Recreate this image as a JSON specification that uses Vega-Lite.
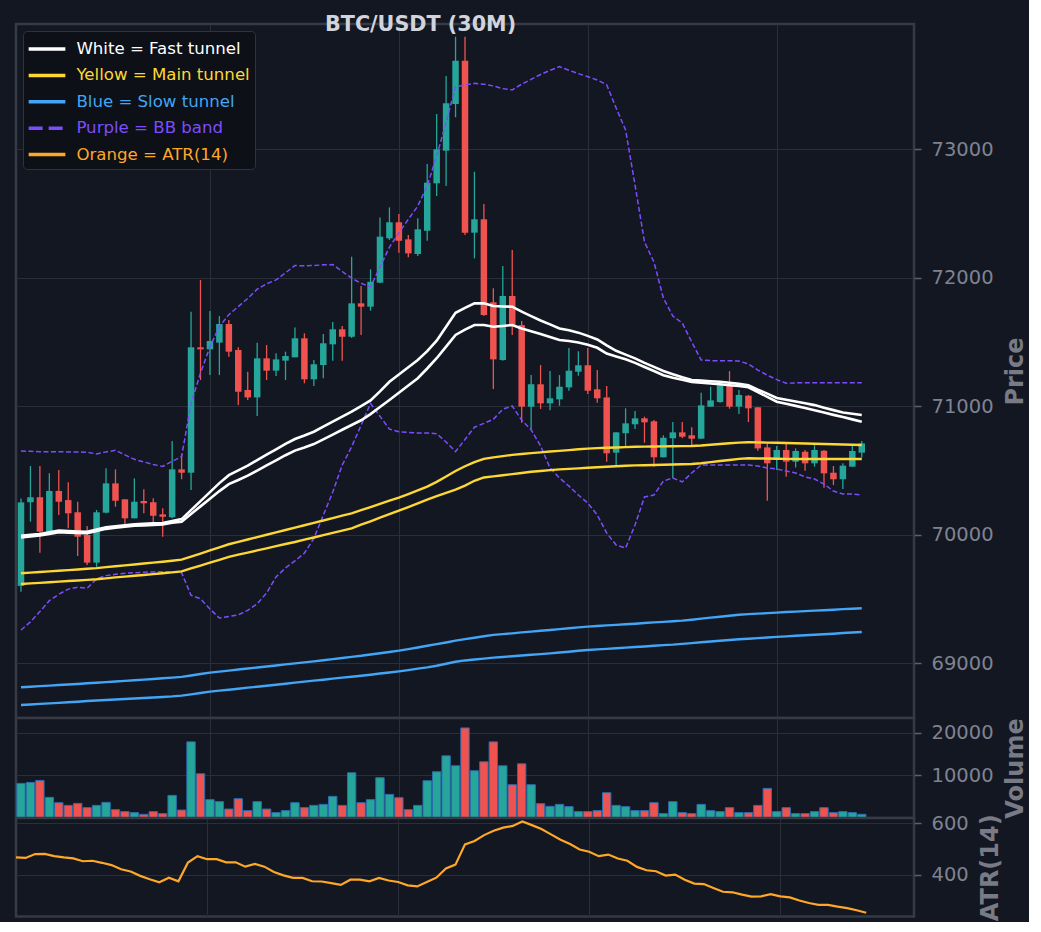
{
  "$schema": "https://vega.github.io/schema/vega-lite/v6.json",
  "background": "#131722",
  "padding": {"left": 14, "top": 14, "right": 0, "bottom": 0},
  "autosize": "pad",
  "bounds": "flush",
  "spacing": 0,
  "title": {
    "text": "BTC/USDT (30M)",
    "anchor": "start",
    "frame": "group",
    "dx": 309,
    "offset": -29,
    "baseline": "alphabetic",
    "font": "DejaVu Sans",
    "fontSize": 20.7,
    "fontWeight": "bold",
    "color": "#d1d4dc"
  },
  "config": {
    "view": {"stroke": "#363a45", "strokeWidth": 2.5, "fill": "#131722"},
    "axis": {
      "gridColor": "#2a2e39",
      "gridWidth": 1,
      "domain": false,
      "tickColor": "#5d606b",
      "tickSize": 7,
      "tickWidth": 1.5,
      "labelColor": "#7f8391",
      "labelFont": "DejaVu Sans",
      "labelFontSize": 19.5,
      "labelPadding": 10,
      "titleColor": "#787b86",
      "titleFont": "DejaVu Sans",
      "titleFontSize": 24,
      "titleFontWeight": "bold",
      "titlePadding": 10
    }
  },
  "datasets": {
    "candles": [
      {"i":0,"o":69600,"h":70280,"l":69555,"c":70250,"v":8126,"f1":69990,"f2":69978,"m1":69698,"m2":69615,"s1":68811,"s2":68673,"bu":70650,"bl":69257,"atr":467},
      {"i":1,"o":70251,"h":70533,"l":70100,"c":70290,"v":8361,"f1":69997,"f2":69985,"m1":69703,"m2":69620,"s1":68815,"s2":68677,"bu":70647,"bl":69320,"atr":465},
      {"i":2,"o":70290,"h":70533,"l":69858,"c":70022,"v":8829,"f1":70004,"f2":69992,"m1":69708,"m2":69624,"s1":68820,"s2":68682,"bu":70645,"bl":69400,"atr":480},
      {"i":3,"o":70022,"h":70476,"l":70010,"c":70339,"v":4848,"f1":70017,"f2":70005,"m1":69713,"m2":69629,"s1":68824,"s2":68686,"bu":70644,"bl":69485,"atr":481},
      {"i":4,"o":70339,"h":70502,"l":70152,"c":70255,"v":3600,"f1":70030,"f2":70018,"m1":69718,"m2":69633,"s1":68829,"s2":68690,"bu":70644,"bl":69535,"atr":472},
      {"i":5,"o":70268,"h":70406,"l":70048,"c":70165,"v":2974,"f1":70027,"f2":70015,"m1":69723,"m2":69638,"s1":68833,"s2":68695,"bu":70643,"bl":69575,"atr":467},
      {"i":6,"o":70173,"h":70255,"l":69833,"c":69983,"v":3443,"f1":70024,"f2":70012,"m1":69728,"m2":69642,"s1":68837,"s2":68699,"bu":70642,"bl":69590,"atr":463},
      {"i":7,"o":69996,"h":70066,"l":69763,"c":69781,"v":2435,"f1":70022,"f2":70010,"m1":69733,"m2":69647,"s1":68842,"s2":68704,"bu":70640,"bl":69582,"atr":452},
      {"i":8,"o":69781,"h":70191,"l":69749,"c":70173,"v":2974,"f1":70039,"f2":70027,"m1":69738,"m2":69652,"s1":68846,"s2":68708,"bu":70627,"bl":69655,"atr":454},
      {"i":9,"o":70170,"h":70515,"l":70165,"c":70398,"v":3677,"f1":70056,"f2":70044,"m1":69746,"m2":69659,"s1":68851,"s2":68712,"bu":70643,"bl":69680,"atr":446},
      {"i":10,"o":70398,"h":70507,"l":70216,"c":70263,"v":1967,"f1":70064,"f2":70052,"m1":69753,"m2":69666,"s1":68856,"s2":68716,"bu":70655,"bl":69690,"atr":437},
      {"i":11,"o":70274,"h":70274,"l":70066,"c":70126,"v":1499,"f1":70072,"f2":70060,"m1":69760,"m2":69672,"s1":68861,"s2":68720,"bu":70620,"bl":69698,"atr":421},
      {"i":12,"o":70126,"h":70437,"l":70126,"c":70255,"v":1265,"f1":70080,"f2":70068,"m1":69767,"m2":69679,"s1":68866,"s2":68724,"bu":70585,"bl":69703,"atr":412},
      {"i":13,"o":70261,"h":70352,"l":70165,"c":70243,"v":875,"f1":70083,"f2":70071,"m1":69774,"m2":69685,"s1":68871,"s2":68728,"bu":70565,"bl":69706,"atr":395},
      {"i":14,"o":70251,"h":70282,"l":70074,"c":70146,"v":1499,"f1":70087,"f2":70075,"m1":69781,"m2":69692,"s1":68876,"s2":68732,"bu":70545,"bl":69709,"atr":382},
      {"i":15,"o":70157,"h":70204,"l":69983,"c":70138,"v":1030,"f1":70090,"f2":70078,"m1":69788,"m2":69698,"s1":68881,"s2":68736,"bu":70530,"bl":69711,"atr":370},
      {"i":16,"o":70134,"h":70728,"l":70126,"c":70507,"v":5316,"f1":70105,"f2":70091,"m1":69796,"m2":69705,"s1":68886,"s2":68740,"bu":70570,"bl":69708,"atr":388},
      {"i":17,"o":70507,"h":70627,"l":70430,"c":70481,"v":1874,"f1":70120,"f2":70100,"m1":69804,"m2":69713,"s1":68892,"s2":68746,"bu":70606,"bl":69703,"atr":374},
      {"i":18,"o":70481,"h":71734,"l":70346,"c":71457,"v":17892,"f1":70190,"f2":70159,"m1":69828,"m2":69736,"s1":68903,"s2":68756,"bu":71020,"bl":69527,"atr":447},
      {"i":19,"o":71457,"h":71981,"l":71202,"c":71441,"v":10398,"f1":70260,"f2":70219,"m1":69852,"m2":69758,"s1":68914,"s2":68767,"bu":71256,"bl":69500,"atr":472},
      {"i":20,"o":71441,"h":71739,"l":71241,"c":71506,"v":4309,"f1":70330,"f2":70278,"m1":69876,"m2":69781,"s1":68925,"s2":68777,"bu":71461,"bl":69420,"atr":460},
      {"i":21,"o":71493,"h":71700,"l":71241,"c":71638,"v":3841,"f1":70400,"f2":70338,"m1":69900,"m2":69803,"s1":68933,"s2":68785,"bu":71618,"bl":69350,"atr":460},
      {"i":22,"o":71638,"h":71669,"l":71384,"c":71423,"v":2108,"f1":70462,"f2":70392,"m1":69924,"m2":69826,"s1":68941,"s2":68792,"bu":71711,"bl":69362,"atr":448},
      {"i":23,"o":71436,"h":71457,"l":71008,"c":71111,"v":4543,"f1":70499,"f2":70424,"m1":69943,"m2":69843,"s1":68949,"s2":68800,"bu":71774,"bl":69375,"atr":448},
      {"i":24,"o":71125,"h":71267,"l":71047,"c":71067,"v":1733,"f1":70536,"f2":70458,"m1":69961,"m2":69859,"s1":68957,"s2":68808,"bu":71837,"bl":69410,"atr":431},
      {"i":25,"o":71067,"h":71493,"l":70922,"c":71371,"v":3841,"f1":70579,"f2":70498,"m1":69980,"m2":69876,"s1":68965,"s2":68815,"bu":71909,"bl":69460,"atr":442},
      {"i":26,"o":71371,"h":71475,"l":71202,"c":71275,"v":2108,"f1":70621,"f2":70538,"m1":69998,"m2":69892,"s1":68973,"s2":68823,"bu":71951,"bl":69545,"atr":431},
      {"i":27,"o":71275,"h":71410,"l":71233,"c":71363,"v":1265,"f1":70663,"f2":70577,"m1":70017,"m2":69909,"s1":68981,"s2":68831,"bu":71981,"bl":69670,"atr":410},
      {"i":28,"o":71353,"h":71423,"l":71202,"c":71389,"v":1733,"f1":70705,"f2":70617,"m1":70035,"m2":69926,"s1":68989,"s2":68839,"bu":72037,"bl":69740,"atr":397},
      {"i":29,"o":71379,"h":71612,"l":71379,"c":71527,"v":3600,"f1":70743,"f2":70653,"m1":70054,"m2":69942,"s1":68997,"s2":68847,"bu":72093,"bl":69795,"atr":387},
      {"i":30,"o":71527,"h":71566,"l":71177,"c":71208,"v":2435,"f1":70770,"f2":70677,"m1":70072,"m2":69960,"s1":69005,"s2":68855,"bu":72092,"bl":69855,"atr":387},
      {"i":31,"o":71208,"h":71358,"l":71156,"c":71325,"v":2974,"f1":70800,"f2":70704,"m1":70091,"m2":69977,"s1":69013,"s2":68863,"bu":72093,"bl":69970,"atr":374},
      {"i":32,"o":71319,"h":71560,"l":71216,"c":71488,"v":3208,"f1":70839,"f2":70741,"m1":70109,"m2":69995,"s1":69021,"s2":68870,"bu":72099,"bl":70150,"atr":373},
      {"i":33,"o":71480,"h":71654,"l":71353,"c":71597,"v":5082,"f1":70878,"f2":70778,"m1":70128,"m2":70013,"s1":69030,"s2":68878,"bu":72101,"bl":70330,"atr":367},
      {"i":34,"o":71597,"h":71623,"l":71353,"c":71539,"v":2974,"f1":70917,"f2":70815,"m1":70147,"m2":70030,"s1":69039,"s2":68886,"bu":72047,"bl":70540,"atr":360},
      {"i":35,"o":71539,"h":72162,"l":71530,"c":71799,"v":10632,"f1":70956,"f2":70852,"m1":70165,"m2":70048,"s1":69048,"s2":68893,"bu":71995,"bl":70683,"atr":380},
      {"i":36,"o":71799,"h":71934,"l":71553,"c":71773,"v":3600,"f1":70999,"f2":70889,"m1":70189,"m2":70076,"s1":69056,"s2":68901,"bu":71955,"bl":70850,"atr":380},
      {"i":37,"o":71773,"h":72064,"l":71742,"c":71967,"v":4309,"f1":71043,"f2":70937,"m1":70214,"m2":70103,"s1":69066,"s2":68909,"bu":71927,"bl":71020,"atr":374},
      {"i":38,"o":71960,"h":72468,"l":71955,"c":72318,"v":9461,"f1":71114,"f2":70992,"m1":70238,"m2":70131,"s1":69076,"s2":68918,"bu":72081,"bl":70920,"atr":387},
      {"i":39,"o":72305,"h":72546,"l":72292,"c":72430,"v":5550,"f1":71189,"f2":71047,"m1":70263,"m2":70158,"s1":69086,"s2":68926,"bu":72237,"bl":70820,"atr":377},
      {"i":40,"o":72430,"h":72494,"l":72193,"c":72286,"v":4777,"f1":71245,"f2":71103,"m1":70287,"m2":70186,"s1":69096,"s2":68935,"bu":72347,"bl":70800,"atr":371},
      {"i":41,"o":72297,"h":72331,"l":72157,"c":72188,"v":1967,"f1":71302,"f2":71160,"m1":70315,"m2":70214,"s1":69108,"s2":68945,"bu":72453,"bl":70795,"atr":358},
      {"i":42,"o":72183,"h":72461,"l":72167,"c":72375,"v":2974,"f1":71358,"f2":71216,"m1":70344,"m2":70243,"s1":69121,"s2":68956,"bu":72556,"bl":70790,"atr":354},
      {"i":43,"o":72364,"h":72883,"l":72286,"c":72738,"v":8759,"f1":71427,"f2":71292,"m1":70373,"m2":70272,"s1":69134,"s2":68966,"bu":72712,"bl":70790,"atr":371},
      {"i":44,"o":72733,"h":73272,"l":72634,"c":72998,"v":10866,"f1":71508,"f2":71372,"m1":70410,"m2":70299,"s1":69147,"s2":68979,"bu":72945,"bl":70785,"atr":388},
      {"i":45,"o":72987,"h":73568,"l":72712,"c":73356,"v":14614,"f1":71617,"f2":71462,"m1":70452,"m2":70324,"s1":69160,"s2":68994,"bu":73208,"bl":70720,"atr":424},
      {"i":46,"o":73350,"h":73874,"l":73247,"c":73687,"v":12272,"f1":71726,"f2":71553,"m1":70494,"m2":70349,"s1":69174,"s2":69010,"bu":73485,"bl":70645,"atr":439},
      {"i":47,"o":73687,"h":73874,"l":72331,"c":72349,"v":21171,"f1":71764,"f2":71594,"m1":70531,"m2":70381,"s1":69186,"s2":69020,"bu":73498,"bl":70740,"atr":518},
      {"i":48,"o":72349,"h":72823,"l":72149,"c":72453,"v":11101,"f1":71799,"f2":71630,"m1":70564,"m2":70418,"s1":69197,"s2":69027,"bu":73511,"bl":70835,"atr":531},
      {"i":49,"o":72453,"h":72572,"l":71700,"c":71708,"v":13208,"f1":71799,"f2":71630,"m1":70589,"m2":70444,"s1":69208,"s2":69034,"bu":73505,"bl":70865,"atr":554},
      {"i":50,"o":71807,"h":71916,"l":71132,"c":71363,"v":17892,"f1":71778,"f2":71617,"m1":70600,"m2":70452,"s1":69219,"s2":69042,"bu":73491,"bl":70897,"atr":571},
      {"i":51,"o":71358,"h":72090,"l":71353,"c":71856,"v":12272,"f1":71775,"f2":71623,"m1":70610,"m2":70461,"s1":69225,"s2":69047,"bu":73470,"bl":70975,"atr":583},
      {"i":52,"o":71856,"h":72214,"l":71553,"c":71630,"v":7822,"f1":71773,"f2":71630,"m1":70620,"m2":70470,"s1":69231,"s2":69053,"bu":73460,"bl":71000,"atr":590},
      {"i":53,"o":71630,"h":71661,"l":70870,"c":70995,"v":12740,"f1":71734,"f2":71604,"m1":70627,"m2":70479,"s1":69238,"s2":69058,"bu":73505,"bl":70890,"atr":607},
      {"i":54,"o":70995,"h":71241,"l":70819,"c":71169,"v":7822,"f1":71700,"f2":71582,"m1":70633,"m2":70488,"s1":69244,"s2":69064,"bu":73542,"bl":70815,"atr":593},
      {"i":55,"o":71169,"h":71319,"l":70977,"c":71021,"v":3372,"f1":71666,"f2":71560,"m1":70639,"m2":70494,"s1":69251,"s2":69069,"bu":73580,"bl":70690,"atr":578},
      {"i":56,"o":71021,"h":71272,"l":70968,"c":71060,"v":2740,"f1":71635,"f2":71537,"m1":70646,"m2":70501,"s1":69257,"s2":69075,"bu":73612,"bl":70518,"atr":557},
      {"i":57,"o":71052,"h":71241,"l":71002,"c":71150,"v":3208,"f1":71604,"f2":71514,"m1":70651,"m2":70507,"s1":69264,"s2":69082,"bu":73641,"bl":70440,"atr":536},
      {"i":58,"o":71145,"h":71451,"l":71119,"c":71275,"v":2670,"f1":71589,"f2":71506,"m1":70657,"m2":70511,"s1":69270,"s2":69088,"bu":73613,"bl":70377,"atr":519},
      {"i":59,"o":71267,"h":71426,"l":71236,"c":71317,"v":1499,"f1":71571,"f2":71495,"m1":70663,"m2":70515,"s1":69277,"s2":69095,"bu":73587,"bl":70307,"atr":498},
      {"i":60,"o":71317,"h":71451,"l":71093,"c":71119,"v":1499,"f1":71546,"f2":71477,"m1":70668,"m2":70519,"s1":69283,"s2":69101,"bu":73563,"bl":70245,"atr":489},
      {"i":61,"o":71130,"h":71280,"l":71026,"c":71060,"v":1733,"f1":71518,"f2":71453,"m1":70672,"m2":70523,"s1":69288,"s2":69106,"bu":73537,"bl":70152,"atr":472},
      {"i":62,"o":71067,"h":71156,"l":70567,"c":70632,"v":5948,"f1":71472,"f2":71408,"m1":70675,"m2":70527,"s1":69293,"s2":69110,"bu":73500,"bl":70012,"atr":478},
      {"i":63,"o":70637,"h":70795,"l":70528,"c":70795,"v":2974,"f1":71430,"f2":71386,"m1":70677,"m2":70531,"s1":69297,"s2":69115,"bu":73319,"bl":69918,"atr":463},
      {"i":64,"o":70788,"h":70982,"l":70683,"c":70865,"v":2670,"f1":71400,"f2":71364,"m1":70680,"m2":70535,"s1":69302,"s2":69120,"bu":73148,"bl":69895,"atr":454},
      {"i":65,"o":70858,"h":70961,"l":70821,"c":70904,"v":1733,"f1":71371,"f2":71336,"m1":70683,"m2":70538,"s1":69306,"s2":69124,"bu":72720,"bl":70074,"atr":430},
      {"i":66,"o":70904,"h":70917,"l":70714,"c":70873,"v":1733,"f1":71336,"f2":71304,"m1":70684,"m2":70539,"s1":69311,"s2":69129,"bu":72276,"bl":70292,"atr":417},
      {"i":67,"o":70881,"h":70891,"l":70528,"c":70601,"v":3600,"f1":71305,"f2":71272,"m1":70685,"m2":70541,"s1":69316,"s2":69134,"bu":72121,"bl":70307,"atr":413},
      {"i":68,"o":70601,"h":70772,"l":70601,"c":70753,"v":1030,"f1":71273,"f2":71240,"m1":70686,"m2":70543,"s1":69320,"s2":69139,"bu":71840,"bl":70416,"atr":396},
      {"i":69,"o":70749,"h":70875,"l":70437,"c":70795,"v":3841,"f1":71248,"f2":71220,"m1":70687,"m2":70545,"s1":69325,"s2":69143,"bu":71700,"bl":70440,"atr":400},
      {"i":70,"o":70795,"h":70875,"l":70749,"c":70761,"v":1265,"f1":71224,"f2":71204,"m1":70688,"m2":70547,"s1":69330,"s2":69149,"bu":71646,"bl":70409,"atr":380},
      {"i":71,"o":70772,"h":70834,"l":70696,"c":70746,"v":1030,"f1":71202,"f2":71188,"m1":70689,"m2":70549,"s1":69337,"s2":69155,"bu":71498,"bl":70479,"atr":365},
      {"i":72,"o":70746,"h":71104,"l":70746,"c":71005,"v":3208,"f1":71198,"f2":71182,"m1":70693,"m2":70555,"s1":69345,"s2":69161,"bu":71358,"bl":70541,"atr":363},
      {"i":73,"o":70995,"h":71150,"l":70995,"c":71044,"v":1733,"f1":71193,"f2":71175,"m1":70699,"m2":70563,"s1":69353,"s2":69167,"bu":71353,"bl":70541,"atr":348},
      {"i":74,"o":71031,"h":71181,"l":71026,"c":71163,"v":1499,"f1":71189,"f2":71169,"m1":70704,"m2":70572,"s1":69360,"s2":69173,"bu":71353,"bl":70541,"atr":333},
      {"i":75,"o":71163,"h":71272,"l":70979,"c":70995,"v":2435,"f1":71181,"f2":71162,"m1":70710,"m2":70580,"s1":69368,"s2":69179,"bu":71353,"bl":70541,"atr":331},
      {"i":76,"o":70995,"h":71125,"l":70937,"c":71086,"v":1265,"f1":71172,"f2":71156,"m1":70715,"m2":70589,"s1":69375,"s2":69185,"bu":71350,"bl":70541,"atr":322},
      {"i":77,"o":71080,"h":71086,"l":70875,"c":70982,"v":1265,"f1":71162,"f2":71146,"m1":70718,"m2":70593,"s1":69380,"s2":69189,"bu":71327,"bl":70541,"atr":314},
      {"i":78,"o":70990,"h":70990,"l":70652,"c":70670,"v":2974,"f1":71128,"f2":71109,"m1":70717,"m2":70592,"s1":69384,"s2":69194,"bu":71280,"bl":70533,"atr":315},
      {"i":79,"o":70678,"h":70710,"l":70263,"c":70554,"v":6955,"f1":71096,"f2":71071,"m1":70715,"m2":70591,"s1":69388,"s2":69198,"bu":71240,"bl":70518,"atr":324},
      {"i":80,"o":70593,"h":70689,"l":70502,"c":70658,"v":1499,"f1":71063,"f2":71034,"m1":70714,"m2":70590,"s1":69392,"s2":69203,"bu":71205,"bl":70510,"atr":315},
      {"i":81,"o":70658,"h":70704,"l":70450,"c":70567,"v":2435,"f1":71049,"f2":71017,"m1":70712,"m2":70589,"s1":69397,"s2":69207,"bu":71177,"bl":70494,"atr":311},
      {"i":82,"o":70567,"h":70670,"l":70522,"c":70650,"v":1030,"f1":71035,"f2":71001,"m1":70710,"m2":70588,"s1":69400,"s2":69212,"bu":71180,"bl":70479,"atr":299},
      {"i":83,"o":70644,"h":70658,"l":70496,"c":70554,"v":1030,"f1":71021,"f2":70984,"m1":70708,"m2":70588,"s1":69404,"s2":69216,"bu":71182,"bl":70448,"atr":289},
      {"i":84,"o":70554,"h":70696,"l":70528,"c":70658,"v":1499,"f1":71007,"f2":70967,"m1":70706,"m2":70588,"s1":69408,"s2":69220,"bu":71182,"bl":70432,"atr":282},
      {"i":85,"o":70652,"h":70658,"l":70364,"c":70476,"v":2435,"f1":70987,"f2":70949,"m1":70704,"m2":70588,"s1":69411,"s2":69224,"bu":71182,"bl":70393,"atr":282},
      {"i":86,"o":70481,"h":70533,"l":70385,"c":70430,"v":1265,"f1":70968,"f2":70931,"m1":70702,"m2":70588,"s1":69415,"s2":69228,"bu":71182,"bl":70338,"atr":275},
      {"i":87,"o":70430,"h":70554,"l":70354,"c":70536,"v":1499,"f1":70949,"f2":70914,"m1":70701,"m2":70588,"s1":69419,"s2":69233,"bu":71182,"bl":70315,"atr":269},
      {"i":88,"o":70528,"h":70689,"l":70528,"c":70650,"v":1265,"f1":70940,"f2":70896,"m1":70699,"m2":70588,"s1":69422,"s2":69237,"bu":71182,"bl":70315,"atr":261},
      {"i":89,"o":70637,"h":70728,"l":70600,"c":70709,"v":875,"f1":70930,"f2":70878,"m1":70697,"m2":70588,"s1":69426,"s2":69241,"bu":71182,"bl":70307,"atr":251}
    ]
  },
  "data": {"name": "candles"},
  "resolve": {
    "scale": {"x": "independent", "y": "independent", "color": "shared"},
    "legend": {"color": "shared"}
  },
  "vconcat": [
    {
      "width": 898,
      "height": 694,
      "encoding": {
        "x": {
          "field": "i", "type": "quantitative",
          "scale": {"domain": [0, 94], "nice": false, "zero": false},
          "axis": {"values": [20, 40, 60, 80], "labels": false, "ticks": false, "domain": false, "title": null, "grid": true}
        }
      },
      "layer": [
        {
          "mark": {"type": "rule", "strokeWidth": 1.3, "clip": true},
          "encoding": {
            "y": {
              "field": "l", "type": "quantitative", "title": "Price",
              "scale": {"domain": [68572, 73973], "nice": false, "zero": false},
              "axis": {"orient": "right", "values": [69000, 70000, 71000, 72000, 73000], "format": "d", "grid": true, "titleAngle": 270, "titleBaseline": "top"}
            },
            "y2": {"field": "h"},
            "color": {"condition": {"test": "datum.c >= datum.o", "value": "#26a69a"}, "value": "#ef5350"}
          }
        },
        {
          "mark": {"type": "bar", "width": 6.5, "clip": true},
          "encoding": {
            "y": {"field": "o", "type": "quantitative", "title": "Price", "scale": {"domain": [68572, 73973], "nice": false, "zero": false}},
            "y2": {"field": "c"},
            "color": {"condition": {"test": "datum.c >= datum.o", "value": "#26a69a"}, "value": "#ef5350"}
          }
        },
        {
          "mark": {"type": "line", "strokeWidth": 2.4, "clip": true},
          "encoding": {
            "y": {"field": "s1", "type": "quantitative", "title": "Price", "scale": {"domain": [68572, 73973], "nice": false, "zero": false}},
            "color": {"datum": "Blue = Slow tunnel", "type": "nominal"}
          }
        },
        {
          "mark": {"type": "line", "strokeWidth": 2.4, "clip": true},
          "encoding": {
            "y": {"field": "s2", "type": "quantitative", "title": "Price", "scale": {"domain": [68572, 73973], "nice": false, "zero": false}},
            "color": {"datum": "Blue = Slow tunnel", "type": "nominal"}
          }
        },
        {
          "mark": {"type": "line", "strokeWidth": 1.5, "strokeDash": [5, 2.5], "clip": true},
          "encoding": {
            "y": {"field": "bu", "type": "quantitative", "title": "Price", "scale": {"domain": [68572, 73973], "nice": false, "zero": false}},
            "color": {"datum": "Purple = BB band", "type": "nominal"}
          }
        },
        {
          "mark": {"type": "line", "strokeWidth": 1.5, "strokeDash": [5, 2.5], "clip": true},
          "encoding": {
            "y": {"field": "bl", "type": "quantitative", "title": "Price", "scale": {"domain": [68572, 73973], "nice": false, "zero": false}},
            "color": {"datum": "Purple = BB band", "type": "nominal"}
          }
        },
        {
          "mark": {"type": "line", "strokeWidth": 2.4, "clip": true},
          "encoding": {
            "y": {"field": "m1", "type": "quantitative", "title": "Price", "scale": {"domain": [68572, 73973], "nice": false, "zero": false}},
            "color": {"datum": "Yellow = Main tunnel", "type": "nominal"}
          }
        },
        {
          "mark": {"type": "line", "strokeWidth": 2.4, "clip": true},
          "encoding": {
            "y": {"field": "m2", "type": "quantitative", "title": "Price", "scale": {"domain": [68572, 73973], "nice": false, "zero": false}},
            "color": {"datum": "Yellow = Main tunnel", "type": "nominal"}
          }
        },
        {
          "mark": {"type": "line", "strokeWidth": 2.6, "clip": true},
          "encoding": {
            "y": {"field": "f1", "type": "quantitative", "title": "Price", "scale": {"domain": [68572, 73973], "nice": false, "zero": false}},
            "color": {
              "datum": "White = Fast tunnel", "type": "nominal",
              "scale": {
                "domain": ["White = Fast tunnel", "Yellow = Main tunnel", "Blue = Slow tunnel", "Purple = BB band", "Orange = ATR(14)"],
                "range": ["#ffffff", "#fdd835", "#42a5f5", "#7c4dff", "#ffa726"]
              },
              "legend": {
                "orient": "top-left",
                "offset": 7,
                "title": null,
                "direction": "vertical",
                "fillColor": "#0d1017",
                "strokeColor": "#2f333e",
                "cornerRadius": 4,
                "padding": 5,
                "symbolType": "M-1.668,0H1.668",
                "symbolSize": 484,
                "symbolStrokeWidth": 3.5,
                "symbolOffset": 6,
                "symbolFillColor": "transparent",
                "labelFont": "DejaVu Sans",
                "labelFontSize": 16.6,
                "labelOffset": 16.4,
                "labelLimit": 400,
                "rowPadding": 4.4,
                "encode": {
                  "labels": {"update": {"fill": {"scale": "color", "field": "value"}}},
                  "symbols": {
                    "update": {
                      "stroke": {"scale": "color", "field": "value"},
                      "fill": {"value": "transparent"},
                      "strokeWidth": {"value": 3.5},
                      "strokeDash": {"signal": "datum.value === 'Purple = BB band' ? [14, 6] : [1, 0]"}
                    }
                  }
                }
              }
            }
          }
        },
        {
          "mark": {"type": "line", "strokeWidth": 2.6, "clip": true},
          "encoding": {
            "y": {"field": "f2", "type": "quantitative", "title": "Price", "scale": {"domain": [68572, 73973], "nice": false, "zero": false}},
            "color": {"datum": "White = Fast tunnel", "type": "nominal"}
          }
        }
      ]
    },
    {
      "width": 898,
      "height": 100,
      "mark": {"type": "bar", "width": 8.4, "stroke": "#2b6cb0", "strokeWidth": 1, "clip": true},
      "encoding": {
        "x": {
          "field": "i", "type": "quantitative",
          "scale": {"domain": [0, 94], "nice": false, "zero": false},
          "axis": {"values": [20, 40, 60, 80], "labels": false, "ticks": false, "domain": false, "title": null, "grid": true}
        },
        "y": {
          "field": "v", "type": "quantitative",
          "scale": {"domain": [0, 23500], "nice": false},
          "axis": {"orient": "right", "values": [10000, 20000], "format": "d", "title": "Volume", "grid": true, "titleAngle": 270, "titleBaseline": "top"}
        },
        "fill": {"condition": {"test": "datum.c >= datum.o", "value": "#26a69a"}, "value": "#ef5350"}
      }
    },
    {
      "width": 898,
      "height": 98.5,
      "mark": {"type": "line", "strokeWidth": 2.2, "clip": true},
      "encoding": {
        "x": {
          "field": "i", "type": "quantitative",
          "scale": {"domain": [0, 94], "nice": false, "zero": false},
          "axis": {"values": [20, 40, 60, 80], "labels": false, "ticks": false, "domain": false, "title": null, "grid": true}
        },
        "y": {
          "field": "atr", "type": "quantitative",
          "scale": {"domain": [236.5, 620.8], "nice": false, "zero": false},
          "axis": {"orient": "right", "values": [400, 600], "title": "ATR(14)", "grid": true, "titleAngle": 270, "titleBaseline": "top"}
        },
        "color": {"datum": "Orange = ATR(14)", "type": "nominal"}
      }
    }
  ]
}
